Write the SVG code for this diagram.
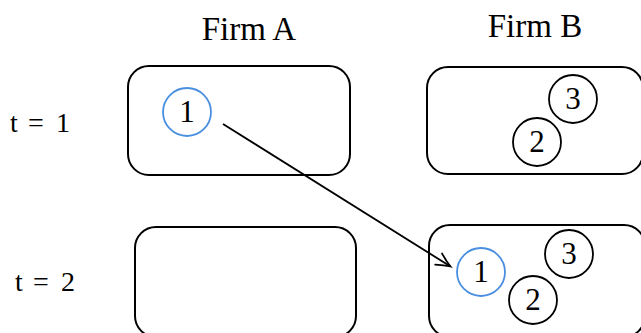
<svg xmlns="http://www.w3.org/2000/svg" width="641" height="333" viewBox="0 0 641 333">
<defs>
<style>
.box{fill:none;stroke:#000;stroke-width:2}
.c{fill:#fff;stroke:#000;stroke-width:1.8}
.cb{fill:#fff;stroke:#4A8FE0;stroke-width:1.8}
.n{font-family:"Liberation Serif",serif;font-size:31px;text-anchor:middle;fill:#000}
.h{font-family:"Liberation Serif",serif;font-size:33px;text-anchor:middle;fill:#000}
.t{font-family:"Liberation Serif",serif;font-size:28px;fill:#000}
.edge{fill:none;stroke:#000;stroke-width:1.8}
</style>
<marker id="arr" markerUnits="userSpaceOnUse" viewBox="-16 -9 20 18" refX="0" refY="0" markerWidth="20" markerHeight="18" orient="auto">
<path d="M -14 -6.5 Q -6 -2 0 0 Q -6 2 -14 6.5" fill="none" stroke="#000" stroke-width="1.8" stroke-linecap="round"/>
</marker>
</defs>
<rect width="641" height="333" fill="#fff"/>
<g id="labels">
<text class="h" x="249" y="40">Firm A</text>
<text class="h" x="535" y="37">Firm B</text>
<text class="t" y="132"><tspan x="10">t</tspan><tspan x="28">=</tspan><tspan x="56">1</tspan></text>
<text class="t" y="291"><tspan x="15">t</tspan><tspan x="33">=</tspan><tspan x="61">2</tspan></text>
</g>
<g id="boxA1"><rect class="box" x="128" y="66" width="222" height="109" rx="21"/></g>
<g id="boxB1"><rect class="box" x="427" y="67" width="216" height="107" rx="21"/></g>
<g id="boxA2"><rect class="box" x="135" y="227" width="221" height="110" rx="21"/></g>
<g id="boxB2"><rect class="box" x="429" y="225" width="216" height="112" rx="21"/></g>
<g id="A1-1"><circle class="cb" cx="187" cy="112" r="24"/><text class="n" x="187" y="122">1</text></g>
<g id="B1-3"><circle class="c" cx="573" cy="99" r="24"/><text class="n" x="573" y="109">3</text></g>
<g id="B1-2"><circle class="c" cx="537" cy="142" r="24"/><text class="n" x="537" y="152">2</text></g>
<g id="B2-1"><circle class="cb" cx="481" cy="272" r="24"/><text class="n" x="481" y="282">1</text></g>
<g id="B2-3"><circle class="c" cx="569" cy="254" r="24"/><text class="n" x="569" y="264">3</text></g>
<g id="B2-2"><circle class="c" cx="533" cy="300" r="24"/><text class="n" x="533" y="310">2</text></g>
<g id="connectors">
<line class="edge" x1="223" y1="124" x2="450.5" y2="266.5" marker-end="url(#arr)"/>
</g>
</svg>
